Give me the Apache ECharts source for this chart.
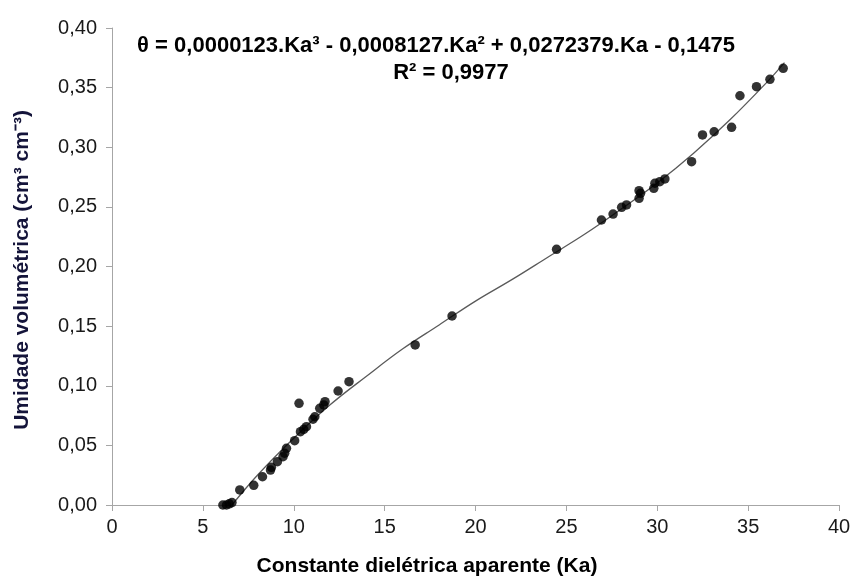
<!DOCTYPE html>
<html>
<head>
<meta charset="utf-8">
<script src="https://cdn.jsdelivr.net/npm/echarts@6/dist/echarts.min.js"></script>
<style>html,body{margin:0;padding:0;background:#fff}#c{width:854px;height:579px}</style>
</head>
<body>
<div id="c"></div>
<script>
// Observed points (Ka, θ)
var kaObs = [6.1, 6.3, 6.45, 6.6, 7.03, 7.8, 8.28, 8.72, 8.77, 9.1, 9.41, 9.5, 9.6, 10.05, 10.29, 10.37, 10.55, 10.7, 11.06, 11.16, 11.43, 11.65, 11.72, 12.44, 13.04, 16.68, 18.71, 24.46, 26.93, 27.57, 28.04, 28.31, 29.0, 29.0, 29.08, 29.81, 29.87, 30.14, 30.42, 31.89, 32.49, 33.13, 34.09, 34.55, 35.46, 36.2, 36.93];
var thetaObs = [0.000, 0.000, 0.001, 0.002, 0.0126, 0.0165, 0.0237, 0.0293, 0.0316, 0.0363, 0.0405, 0.0434, 0.0475, 0.0539, 0.0853, 0.0615, 0.0635, 0.0657, 0.0719, 0.074, 0.0811, 0.0839, 0.0866, 0.0956, 0.1034, 0.1342, 0.1585, 0.2144, 0.239, 0.244, 0.2496, 0.2516, 0.2572, 0.2636, 0.2614, 0.2656, 0.2698, 0.2711, 0.2734, 0.2879, 0.3103, 0.313, 0.3167, 0.3432, 0.3508, 0.357, 0.3662];
// Fitted curve
var kaFit = [6.6, 8, 10, 12, 14, 16, 18, 20, 22, 24, 26, 28, 30, 32, 34, 36, 37];
var thetaFit = [0.000, 0.025, 0.056, 0.084, 0.108, 0.131, 0.151, 0.171, 0.189, 0.208, 0.227, 0.248, 0.270, 0.295, 0.323, 0.354, 0.371];
// Tick labels
var xTicks = [0, 5, 10, 15, 20, 25, 30, 35, 40];
var yTicks = [0, 0.05, 0.10, 0.15, 0.20, 0.25, 0.30, 0.35, 0.40];

var eqText = 'θ = 0,0000123.Ka³ - 0,0008127.Ka² + 0,0272379.Ka - 0,1475';
var r2Text = 'R² = 0,9977';
var xTitle = 'Constante dielétrica aparente (Ka)';
var yTitle = 'Umidade volumétrica (cm³ cm⁻³)';

var obs = kaObs.map(function (k, i) { return [k, thetaObs[i]]; });
var fit = kaFit.map(function (k, i) { return [k, thetaFit[i]]; });

var chart = echarts.init(document.getElementById('c'));
var axisCol = '#a6a6a6';
var fontFam = '"Liberation Sans", Arial, sans-serif';
chart.setOption({
  animation: false,
  grid: { left: 112, right: 15, top: 28, bottom: 74 },
  xAxis: {
    type: 'value', min: xTicks[0], max: xTicks[xTicks.length - 1], interval: 5,
    axisLine: { lineStyle: { color: axisCol, width: 1 } },
    axisTick: { show: true, length: 6, lineStyle: { color: axisCol } },
    splitLine: { show: false },
    axisLabel: { color: '#1a1a1a', fontSize: 20, fontFamily: fontFam, margin: 12 }
  },
  yAxis: {
    type: 'value', min: yTicks[0], max: yTicks[yTicks.length - 1], interval: 0.05,
    axisLine: { show: true, lineStyle: { color: axisCol, width: 1 } },
    axisTick: { show: true, length: 6, lineStyle: { color: axisCol } },
    splitLine: { show: false },
    axisLabel: {
      color: '#1a1a1a', fontSize: 20, fontFamily: fontFam, margin: 15,
      formatter: function (v) { return v.toFixed(2).replace('.', ','); }
    }
  },
  series: [
    {
      type: 'line', data: fit, smooth: 0.4, symbol: 'none',
      lineStyle: { color: '#5a5a5a', width: 1.3 }, z: 2
    },
    {
      type: 'scatter', data: obs, symbol: 'circle', symbolSize: 9.5,
      itemStyle: { color: '#000' }, z: 3
    }
  ],
  graphic: [
    { type: 'text', position: [436, 46], style: { text: eqText, font: 'bold 22px ' + fontFam, fill: '#000', textAlign: 'center', textVerticalAlign: 'middle' } },
    { type: 'text', position: [451, 73], style: { text: r2Text, font: 'bold 22px ' + fontFam, fill: '#000', textAlign: 'center', textVerticalAlign: 'middle' } },
    { type: 'text', position: [427, 566], style: { text: xTitle, font: 'bold 21px ' + fontFam, fill: '#000', textAlign: 'center', textVerticalAlign: 'middle' } },
    { type: 'text', position: [22, 270], rotation: Math.PI / 2, style: { text: yTitle, font: 'bold 21px ' + fontFam, fill: '#14143a', textAlign: 'center', textVerticalAlign: 'middle' } }
  ]
});
</script>
</body>
</html>
